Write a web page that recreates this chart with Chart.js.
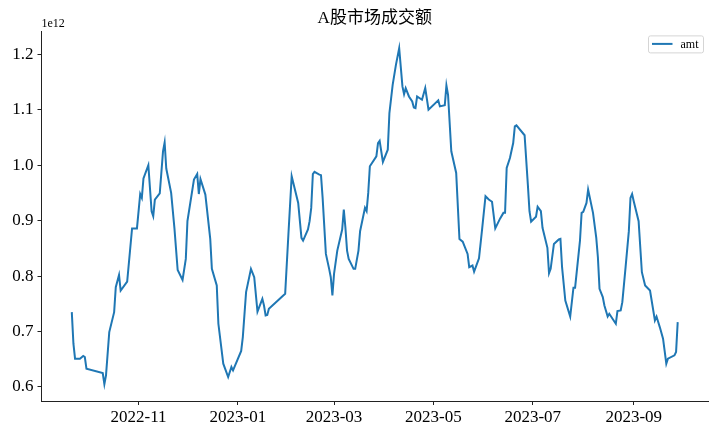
<!DOCTYPE html>
<html>
<head>
<meta charset="utf-8">
<script src="https://cdn.jsdelivr.net/npm/chart.js@4"></script>
<style>
  body { margin: 0; background: #fff; }
  canvas { display: block; }
</style>
</head>
<body>
<canvas id="amtChart" width="720" height="432"></canvas>
<script>
// daily turnover of the A-share market, values in 1e12 yuan
const dates = [
  '2022-09-21','2022-09-22','2022-09-23','2022-09-26','2022-09-28','2022-09-29','2022-09-30',
  '2022-10-10','2022-10-11','2022-10-12','2022-10-14','2022-10-17','2022-10-18','2022-10-20','2022-10-21','2022-10-25','2022-10-28','2022-10-31',
  '2022-11-02','2022-11-03','2022-11-04','2022-11-07','2022-11-09','2022-11-10','2022-11-11','2022-11-14','2022-11-16','2022-11-17','2022-11-18','2022-11-21','2022-11-23','2022-11-25','2022-11-28','2022-11-30',
  '2022-12-01','2022-12-05','2022-12-07','2022-12-08','2022-12-09','2022-12-12','2022-12-15','2022-12-16','2022-12-19','2022-12-20','2022-12-23','2022-12-26','2022-12-28','2022-12-29',
  '2023-01-03','2023-01-04','2023-01-06','2023-01-09','2023-01-11','2023-01-13','2023-01-16','2023-01-17','2023-01-18','2023-01-19','2023-01-20','2023-01-30',
  '2023-02-01','2023-02-03','2023-02-07','2023-02-09','2023-02-10','2023-02-13','2023-02-14','2023-02-15','2023-02-16','2023-02-17','2023-02-20','2023-02-21','2023-02-22','2023-02-24','2023-02-26','2023-02-27','2023-02-28',
  '2023-03-01','2023-03-03','2023-03-06','2023-03-07','2023-03-08','2023-03-09','2023-03-10','2023-03-13','2023-03-14','2023-03-16','2023-03-17','2023-03-20','2023-03-21','2023-03-22','2023-03-23','2023-03-27','2023-03-28','2023-03-29','2023-03-31',
  '2023-04-03','2023-04-04','2023-04-06','2023-04-08','2023-04-10','2023-04-12','2023-04-13','2023-04-14','2023-04-16','2023-04-18','2023-04-19','2023-04-20','2023-04-21','2023-04-24','2023-04-26','2023-04-28',
  '2023-05-04','2023-05-05','2023-05-08','2023-05-09','2023-05-10','2023-05-12','2023-05-15','2023-05-17','2023-05-19','2023-05-22','2023-05-23','2023-05-25','2023-05-26','2023-05-29','2023-05-31',
  '2023-06-02','2023-06-04','2023-06-06','2023-06-08','2023-06-11','2023-06-13','2023-06-14','2023-06-15','2023-06-17','2023-06-19','2023-06-20','2023-06-21','2023-06-26','2023-06-28','2023-06-29','2023-06-30',
  '2023-07-03','2023-07-04','2023-07-06','2023-07-07','2023-07-10','2023-07-11','2023-07-12','2023-07-14','2023-07-17','2023-07-18','2023-07-19','2023-07-21','2023-07-24','2023-07-26','2023-07-27','2023-07-30','2023-07-31',
  '2023-08-01','2023-08-03','2023-08-04','2023-08-07','2023-08-09','2023-08-10','2023-08-11','2023-08-13','2023-08-14','2023-08-16','2023-08-17','2023-08-21','2023-08-22','2023-08-24','2023-08-25','2023-08-27','2023-08-29','2023-08-30','2023-08-31',
  '2023-09-01','2023-09-04','2023-09-06','2023-09-08','2023-09-11','2023-09-14','2023-09-15','2023-09-17','2023-09-19','2023-09-21','2023-09-22','2023-09-26','2023-09-27','2023-09-28'
];
const amt = [
  0.735,0.678,0.651,0.651,0.656,0.654,0.633,
  0.625,0.605,0.621,0.699,0.735,0.780,0.802,0.774,0.790,0.886,0.886,
  0.948,0.941,0.976,1.000,0.917,0.908,0.938,0.949,1.025,1.041,0.994,0.950,0.887,0.811,0.793,0.831,
  0.899,0.974,0.984,0.948,0.975,0.947,0.867,0.813,0.783,0.714,0.642,0.618,0.636,0.630,
  0.665,0.690,0.771,0.813,0.798,0.736,0.759,0.747,0.729,0.730,0.741,0.768,
  0.876,0.980,0.932,0.869,0.864,0.884,0.899,0.923,0.984,0.988,0.983,0.982,0.941,0.840,0.813,0.798,0.765,
  0.804,0.846,0.884,0.920,0.887,0.846,0.831,0.813,0.813,0.846,0.881,0.923,0.917,0.950,0.998,1.016,1.040,1.044,1.006,
  1.028,1.094,1.145,1.181,1.211,1.142,1.128,1.139,1.124,1.115,1.104,1.103,1.124,1.118,1.139,1.100,
  1.117,1.106,1.108,1.144,1.127,1.025,0.986,0.867,0.862,0.840,0.816,0.819,0.808,0.832,0.887,
  0.944,0.938,0.934,0.886,0.904,0.914,0.914,0.995,1.013,1.040,1.070,1.072,1.054,0.965,0.917,0.898,
  0.907,0.925,0.917,0.887,0.851,0.805,0.813,0.858,0.866,0.867,0.816,0.756,0.727,0.779,0.779,0.864,0.914,
  0.916,0.932,0.956,0.914,0.869,0.834,0.777,0.762,0.747,0.727,0.732,0.714,0.737,0.738,0.753,0.816,0.881,0.941,0.948,
  0.935,0.899,0.807,0.783,0.774,0.720,0.727,0.708,0.687,0.642,0.651,0.657,0.663,0.717
];
const xTickDates = ['2022-11-01','2023-01-01','2023-03-01','2023-05-01','2023-07-01','2023-09-01'];
const yTicks = [0.6, 0.7, 0.8, 0.9, 1.0, 1.1, 1.2];

const DAY = 86400000;
const toDay = s => Date.parse(s) / DAY;
const points = dates.map((d, i) => ({ x: toDay(d), y: amt[i] }));

// matplotlib-like 5% margins
const xLo = Math.min(...points.map(p => p.x)), xHi = Math.max(...points.map(p => p.x));
const yLo = Math.min(...amt), yHi = Math.max(...amt);
const xPad = (xHi - xLo) * 0.05, yPad = (yHi - yLo) * 0.05;

const serif = "'Liberation Serif', 'Noto Sans CJK SC', serif";
const axisColor = '#222';

const extras = {
    id: 'extras',
    afterDraw(chart) {
        const ctx = chart.ctx;
        const area = chart.chartArea;
        ctx.save();
        // offset text of the y axis
        ctx.fillStyle = '#000';
        ctx.font = '12px ' + serif;
        ctx.textAlign = 'left';
        ctx.textBaseline = 'bottom';
        ctx.fillText('1e12', area.left, area.top - 2);
        // legend box
        const ds = chart.data.datasets[0];
        const bx = area.right - 59.5, by = area.top + 4.5, bw = 55, bh = 17;
        ctx.beginPath();
        ctx.roundRect(bx, by, bw, bh, 2);
        ctx.fillStyle = 'rgba(255,255,255,0.8)';
        ctx.fill();
        ctx.strokeStyle = '#d5d5d5';
        ctx.lineWidth = 1;
        ctx.stroke();
        ctx.beginPath();
        ctx.moveTo(bx + 3.5, by + 8);
        ctx.lineTo(bx + 24, by + 8);
        ctx.strokeStyle = ds.borderColor;
        ctx.lineWidth = ds.borderWidth;
        ctx.stroke();
        ctx.fillStyle = '#000';
        ctx.textBaseline = 'middle';
        ctx.fillText(ds.label, bx + 32, by + 8.5);
        ctx.restore();
    }
};

new Chart(document.getElementById('amtChart').getContext('2d'), {
    type: 'line',
    data: {
        datasets: [{
            label: 'amt',
            data: points,
            borderColor: '#1f77b4',
            borderWidth: 2,
            pointRadius: 0,
            tension: 0,
            fill: false
        }]
    },
    options: {
        responsive: false,
        animation: false,
        layout: { padding: { left: 0, right: 12, top: 0, bottom: 0 } },
        plugins: {
            legend: { display: false },
            tooltip: { enabled: false },
            title: {
                display: true,
                text: 'A股市场成交额',
                fullSize: false,
                color: '#000',
                font: { family: serif, size: 17, weight: 'normal' },
                padding: { top: 8, bottom: 3 }
            }
        },
        scales: {
            x: {
                type: 'linear',
                min: xLo - xPad,
                max: xHi + xPad,
                afterBuildTicks(scale) {
                    scale.ticks = xTickDates.map(d => ({ value: toDay(d) }));
                },
                afterFit(scale) { scale.height = 31; },
                ticks: {
                    color: '#000',
                    font: { family: serif, size: 17 },
                    padding: 2,
                    maxRotation: 0,
                    autoSkip: false,
                    callback: v => new Date(v * DAY).toISOString().slice(0, 7)
                },
                grid: { drawOnChartArea: false, drawTicks: true, tickLength: 4, color: axisColor },
                border: { color: axisColor, width: 1 }
            },
            y: {
                min: yLo - yPad,
                max: yHi + yPad,
                afterBuildTicks(scale) {
                    scale.ticks = yTicks.map(v => ({ value: v }));
                },
                afterFit(scale) { scale.width = 41.5; },
                ticks: {
                    color: '#000',
                    font: { family: serif, size: 17 },
                    padding: 4,
                    autoSkip: false,
                    callback: v => v.toFixed(1)
                },
                grid: { drawOnChartArea: false, drawTicks: true, tickLength: 4, color: axisColor },
                border: { color: axisColor, width: 1 }
            }
        }
    },
    plugins: [extras]
});
</script>
</body>
</html>
